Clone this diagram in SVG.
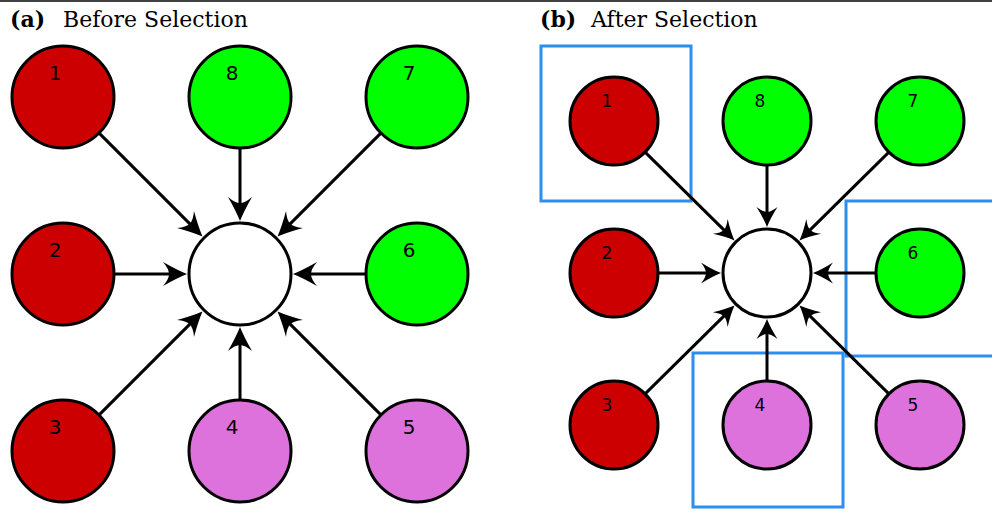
<svg xmlns="http://www.w3.org/2000/svg" width="992" height="512" viewBox="0 0 992 512">
  <style>
    .title { font-family: "DejaVu Serif", "Liberation Serif", serif; font-size: 22px; fill: #000; }
    .title .tag { font-weight: bold; }
    .node { stroke: #000; stroke-width: 3; }
    .red { fill: #cc0000; }
    .green { fill: #00ff00; }
    .pink { fill: #dd72dd; }
    .hub { fill: #fff; }
    .lbl { font-family: "DejaVu Sans", "Liberation Sans", sans-serif; fill: #000; text-anchor: middle; }
    .lbl-a { font-size: 20px; }
    .lbl-b { font-size: 17px; }
    .edge { stroke: #000; stroke-width: 3; fill: none; }
    .edge-a { marker-end: url(#headA); }
    .edge-b { marker-end: url(#headB); }
    .sel { fill: none; stroke: #2b8ff0; stroke-width: 3; }
  </style>
  <defs>
    <marker id="headA" markerUnits="userSpaceOnUse" orient="auto" markerWidth="40" markerHeight="40" viewBox="-20 -20 40 40" refX="0" refY="0" overflow="visible">
      <path d="M10,0 Q0,-4 -14,-12 Q-8,-5 -8,0 Q-8,5 -14,12 Q0,4 10,0 Z" fill="#000"/>
    </marker>
    <marker id="headB" markerUnits="userSpaceOnUse" orient="auto" markerWidth="40" markerHeight="40" viewBox="-20 -20 40 40" refX="0" refY="0" overflow="visible">
      <path d="M10,0 Q1,-3.5 -10,-10.5 Q-5,-4 -5,0 Q-5,4 -10,10.5 Q1,3.5 10,0 Z" fill="#000"/>
    </marker>
  </defs>

  <rect x="0" y="0" width="992" height="512" fill="#fff"/>
  <line x1="0" y1="1" x2="992" y2="1" stroke="#000" stroke-width="1.4"/>

  <!-- panel titles -->
  <text class="title" x="10" y="27"><tspan class="tag">(a)</tspan><tspan x="63">Before Selection</tspan></text>
  <text class="title" x="540" y="27"><tspan class="tag">(b)</tspan><tspan x="591">After Selection</tspan></text>

  <!-- panel (a) connectors -->
  <g id="edges-a">
    <line class="edge edge-a" x1="99.1" y1="133.1" x2="195.4" y2="229.4"/>
    <line class="edge edge-a" x1="240" y1="148" x2="240" y2="211"/>
    <line class="edge edge-a" x1="380.9" y1="133.1" x2="284.6" y2="229.4"/>
    <line class="edge edge-a" x1="114" y1="274" x2="177" y2="274"/>
    <line class="edge edge-a" x1="366" y1="274" x2="303" y2="274"/>
    <line class="edge edge-a" x1="99.1" y1="414.9" x2="195.4" y2="318.6"/>
    <line class="edge edge-a" x1="240" y1="400" x2="240" y2="337"/>
    <line class="edge edge-a" x1="380.9" y1="414.9" x2="284.6" y2="318.6"/>
  </g>

  <!-- panel (a) nodes -->
  <g id="a-hub"><circle class="node hub" cx="240" cy="274" r="51"/></g>
  <g id="a-n1"><circle class="node red" cx="63" cy="97" r="51"/><text class="lbl lbl-a" x="55" y="80">1</text></g>
  <g id="a-n8"><circle class="node green" cx="240" cy="97" r="51"/><text class="lbl lbl-a" x="232" y="80">8</text></g>
  <g id="a-n7"><circle class="node green" cx="417" cy="97" r="51"/><text class="lbl lbl-a" x="409" y="80">7</text></g>
  <g id="a-n2"><circle class="node red" cx="63" cy="274" r="51"/><text class="lbl lbl-a" x="55" y="257">2</text></g>
  <g id="a-n6"><circle class="node green" cx="417" cy="274" r="51"/><text class="lbl lbl-a" x="409" y="257">6</text></g>
  <g id="a-n3"><circle class="node red" cx="63" cy="451" r="51"/><text class="lbl lbl-a" x="55" y="434">3</text></g>
  <g id="a-n4"><circle class="node pink" cx="240" cy="451" r="51"/><text class="lbl lbl-a" x="232" y="434">4</text></g>
  <g id="a-n5"><circle class="node pink" cx="417" cy="451" r="51"/><text class="lbl lbl-a" x="409" y="434">5</text></g>

  <!-- panel (b) selection boxes -->
  <g id="selections">
    <rect class="sel" x="541" y="46" width="150" height="155"/>
    <rect class="sel" x="693" y="353" width="150" height="154"/>
    <rect class="sel" x="846" y="201" width="160" height="155"/>
  </g>

  <!-- panel (b) connectors -->
  <g id="edges-b">
    <line class="edge edge-b" x1="645.1" y1="152.1" x2="727.4" y2="233.4"/>
    <line class="edge edge-b" x1="767" y1="165" x2="767" y2="217"/>
    <line class="edge edge-b" x1="888.9" y1="152.1" x2="806.6" y2="233.4"/>
    <line class="edge edge-b" x1="658" y1="273" x2="711" y2="273"/>
    <line class="edge edge-b" x1="876" y1="273" x2="823" y2="273"/>
    <line class="edge edge-b" x1="645.1" y1="393.9" x2="727.4" y2="312.6"/>
    <line class="edge edge-b" x1="767" y1="381" x2="767" y2="329"/>
    <line class="edge edge-b" x1="888.9" y1="393.9" x2="806.6" y2="312.6"/>
  </g>

  <!-- panel (b) nodes -->
  <g id="b-hub"><circle class="node hub" cx="767" cy="273" r="44"/></g>
  <g id="b-n1"><circle class="node red" cx="614" cy="121" r="44"/><text class="lbl lbl-b" x="607" y="107">1</text></g>
  <g id="b-n8"><circle class="node green" cx="767" cy="121" r="44"/><text class="lbl lbl-b" x="760" y="107">8</text></g>
  <g id="b-n7"><circle class="node green" cx="920" cy="121" r="44"/><text class="lbl lbl-b" x="913" y="107">7</text></g>
  <g id="b-n2"><circle class="node red" cx="614" cy="273" r="44"/><text class="lbl lbl-b" x="607" y="259">2</text></g>
  <g id="b-n6"><circle class="node green" cx="920" cy="273" r="44"/><text class="lbl lbl-b" x="913" y="259">6</text></g>
  <g id="b-n3"><circle class="node red" cx="614" cy="425" r="44"/><text class="lbl lbl-b" x="607" y="411">3</text></g>
  <g id="b-n4"><circle class="node pink" cx="767" cy="425" r="44"/><text class="lbl lbl-b" x="760" y="411">4</text></g>
  <g id="b-n5"><circle class="node pink" cx="920" cy="425" r="44"/><text class="lbl lbl-b" x="913" y="411">5</text></g>
</svg>
